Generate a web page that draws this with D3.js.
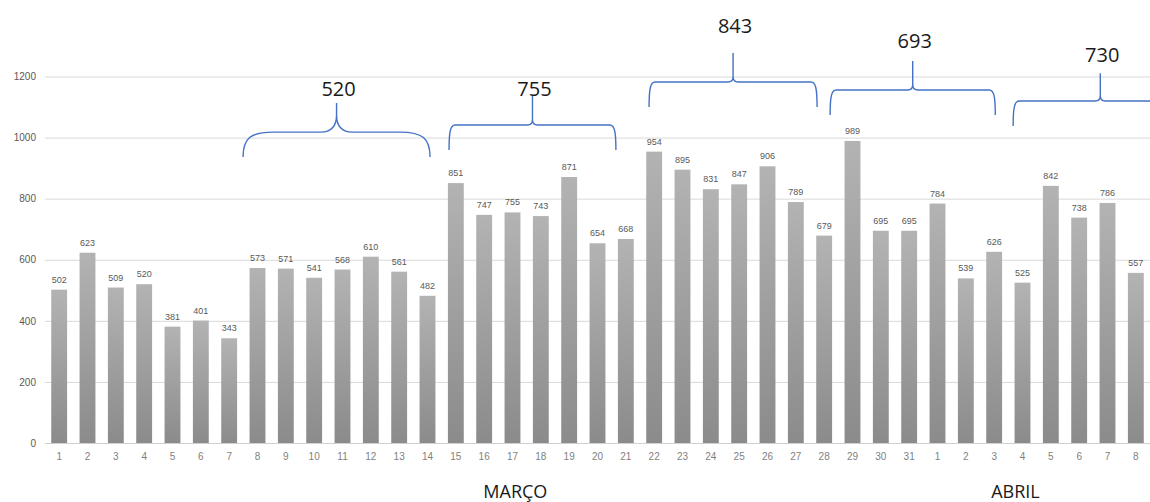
<!DOCTYPE html>
<html><head><meta charset="utf-8">
<script src="https://cdn.jsdelivr.net/npm/d3@7"></script>
<style>body{margin:0;background:#fff;}svg{display:block;}</style>
</head><body>
<svg id="c" width="1150" height="502"></svg>
<script>
// ---- data ----
const days = ["1","2","3","4","5","6","7","8","9","10","11","12","13","14","15","16","17","18","19","20","21","22","23","24","25","26","27","28","29","30","31","1","2","3","4","5","6","7","8"];
const values = [502,623,509,520,381,401,343,573,571,541,568,610,561,482,851,747,755,743,871,654,668,954,895,831,847,906,789,679,989,695,695,784,539,626,525,842,738,786,557];
const yTicks = [0,200,400,600,800,1000,1200];
const months = ["MARÇO","ABRIL"];
const braceLabels = ["520","755","843","693","730"];
const braceFirst = [7,14,21,28,34];       // first category index of each bracket
const braceLast  = [13,20,27,33,38];      // last category index
const braceLevel = [1018,1041,1182,1156,1120]; // value level of the bracket bar
const braceTip   = [1113,1136,1277,1251,1211]; // value level of the bracket tip
const braceText  = [1136,1136,1342,1293,1247]; // value level of label baseline

// ---- layout ----
const svg=d3.select("#c");
const x=d3.scaleBand().domain(d3.range(values.length)).range([45,1150]).paddingInner(0.44).paddingOuter(0.22);
const y=d3.scaleLinear().domain([0,1200]).range([443,76.5]);
const step=x.step();
const cx=i=>x(i)+x.bandwidth()/2;
const monthPos=[16.1,33.75];

const defs=svg.append("defs");
const g=defs.append("linearGradient").attr("id","bg").attr("x1",0).attr("y1",0).attr("x2",0).attr("y2",1);
g.append("stop").attr("offset","0%").attr("stop-color","#b3b3b3");
g.append("stop").attr("offset","100%").attr("stop-color","#8b8b8b");
const f=defs.append("filter").attr("id","soft").attr("x","-50%").attr("y","-10%").attr("width","200%").attr("height","120%");
f.append("feGaussianBlur").attr("stdDeviation",0.7);

// grid
svg.append("g").selectAll("line").data(yTicks).join("line")
  .attr("x1",45).attr("x2",1150).attr("y1",d=>y(d)+0.5).attr("y2",d=>y(d)+0.5)
  .attr("stroke","#d9d9d9").attr("stroke-width",1);

// y axis labels
const yAxis=svg.append("g").attr("transform","translate(38,0)")
  .call(d3.axisLeft(y).tickValues(yTicks).tickFormat(d3.format("d")).tickSize(0).tickPadding(2));
yAxis.select(".domain").remove();
yAxis.selectAll("text").attr("font-family","Liberation Sans, Arial, sans-serif").attr("font-size",10).attr("fill","#595959");

// bars
svg.append("g").selectAll("rect").data(values).join("rect")
  .attr("x",(d,i)=>x(i)).attr("width",x.bandwidth())
  .attr("y",d=>y(d)).attr("height",d=>y(0)-y(d))
  .attr("fill","url(#bg)").attr("filter","url(#soft)");

// baseline
svg.append("line").attr("x1",45).attr("x2",1150).attr("y1",y(0)+0.5).attr("y2",y(0)+0.5).attr("stroke","#d0d0d0");

// value labels
svg.append("g").selectAll("text").data(values).join("text")
  .attr("x",(d,i)=>cx(i)).attr("y",d=>y(d)-7)
  .attr("text-anchor","middle").attr("font-family","Liberation Sans, Arial, sans-serif")
  .attr("font-size",9).attr("fill","#595959").text(d=>d);

// x axis labels
const xAxis=svg.append("g").attr("transform",`translate(0,${y(0)})`)
  .call(d3.axisBottom(x).tickFormat(i=>days[i]).tickSize(0).tickPadding(10));
xAxis.select(".domain").remove();
xAxis.selectAll("text").attr("font-family","Liberation Sans, Arial, sans-serif").attr("font-size",10).attr("fill","#7f7f7f");

// month labels
svg.append("g").selectAll("text").data(months).join("text")
  .attr("x",(d,i)=>59.2+step*monthPos[i]).attr("y",498)
  .attr("text-anchor","middle").attr("font-family","Open Sans, sans-serif")
  .attr("font-size",18).attr("fill","#1a1a1a").text(d=>d);

// braces
const braceNudge=[[-0.51,0.09],[-0.24,-0.35],[-0.18,-0.25],[-0.79,0.04],[-0.33,1.82]];
const endR=[30,6,6,6,6];
const midR=[16,5,5,5,5];
function bracePath(x0,x1,yl,yt,re,rm,drop){
  const xm=(x0+x1)/2;
  const mh=Math.min(rm*1.1,(yl-yt)*0.6);
  const p=d3.path();
  p.moveTo(x0,yl+drop);
  p.bezierCurveTo(x0,yl+drop*0.25,x0+re*0.25,yl,x0+re,yl);
  p.lineTo(xm-rm,yl);
  p.bezierCurveTo(xm-rm*0.3,yl,xm,yl-mh*0.4,xm,yl-mh);
  p.lineTo(xm,yt);
  p.moveTo(xm,yl-mh);
  p.bezierCurveTo(xm,yl-mh*0.4,xm+rm*0.3,yl,xm+rm,yl);
  p.lineTo(x1-re,yl);
  p.bezierCurveTo(x1-re*0.25,yl,x1,yl+drop*0.25,x1,yl+drop);
  return p.toString();
}
const bg=svg.append("g");
braceLabels.forEach((lab,i)=>{
  const x0=cx(braceFirst[i])+braceNudge[i][0]*step;
  const x1=cx(braceLast[i])+braceNudge[i][1]*step;
  const yl=y(braceLevel[i]);
  bg.append("path").attr("d",bracePath(x0,x1,yl,y(braceTip[i]),endR[i],midR[i],25))
    .attr("fill","none").attr("stroke","#4472c4").attr("stroke-width",1.4);
  bg.append("text").attr("x",(x0+x1)/2+2).attr("y",y(braceText[i]))
    .attr("text-anchor","middle").attr("font-family","Open Sans, sans-serif")
    .attr("font-size",20).attr("fill","#1a1a1a").text(lab);
});
</script>
</body></html>
